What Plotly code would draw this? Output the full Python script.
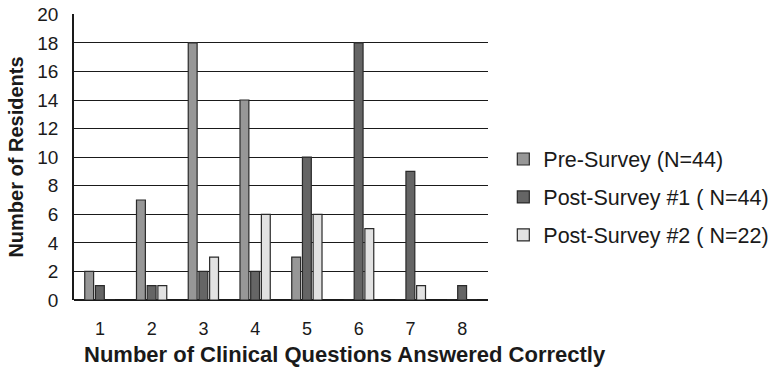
import plotly.graph_objects as go

categories = [1, 2, 3, 4, 5, 6, 7, 8]
pre_survey = [2, 7, 18, 14, 3, 0, 0, 0]
post_survey_1 = [1, 1, 2, 2, 10, 18, 9, 1]
post_survey_2 = [0, 1, 3, 6, 6, 5, 1, 0]
series_names = ["Pre-Survey (N=44)", "Post-Survey #1 ( N=44)", "Post-Survey #2 ( N=22)"]
y_ticks = list(range(0, 21, 2))
x_title = "Number of Clinical Questions Answered Correctly"
y_title = "Number of Residents"

colors = ["#979797", "#656565", "#e2e2e2"]
font = "Liberation Sans, Arial, sans-serif"
ink = "#1a1a1a"

fig = go.Figure()
for i, (name, vals) in enumerate(zip(series_names, [pre_survey, post_survey_1, post_survey_2])):
    fig.add_trace(go.Bar(
        x=categories, y=vals, name=name, legendgroup=str(i),
        textposition="none", hoverinfo="x+y+name",
        marker=dict(color=colors[i], line=dict(color="#2a2a2a", width=1.2)),
    ))

fig.update_layout(
    width=773, height=368,
    margin=dict(l=74, r=285, t=14, b=68, autoexpand=False),
    paper_bgcolor="white", plot_bgcolor="white",
    barmode="group", bargap=0.38, bargroupgap=0.17,
    font=dict(family=font, color=ink),
    showlegend=True,
    legend=dict(
        x=1.037, y=0.36, xanchor="left", yanchor="middle",
        font=dict(size=21.5, family=font, color=ink),
        traceorder="grouped", tracegroupgap=7,
        itemwidth=30, bgcolor="rgba(0,0,0,0)",
    ),
    annotations=[dict(
        text="<b>" + x_title + "</b>", xref="paper", yref="paper",
        x=0.655, y=-0.192, xanchor="center", yanchor="middle", showarrow=False,
        font=dict(size=22, family=font, color=ink),
    )],
)
fig.update_xaxes(
    range=[0.5, 8.5], tickmode="array", tickvals=categories,
    ticktext=[str(c) for c in categories],
    showgrid=False, zeroline=False, showline=False, ticks="",
    ticklabelstandoff=16, automargin=False,
    tickfont=dict(size=18, family=font, color=ink),
)
fig.update_yaxes(
    range=[0, 20.02], tickmode="array", tickvals=y_ticks,
    showgrid=True, gridcolor=ink, gridwidth=1.3,
    zeroline=True, zerolinecolor=ink, zerolinewidth=1.5,
    showline=True, linecolor=ink, linewidth=1.5,
    ticks="", ticklabelstandoff=10, automargin=False,
    ticklabeloverflow="allow",
    tickfont=dict(size=19, family=font, color=ink),
    title=dict(text="<b>" + y_title + "</b>",
               font=dict(size=20, family=font, color=ink), standoff=8),
)

fig.write_html(
    "out.html",
    config={"displayModeBar": False},
    post_script="document.body.style.margin='0';document.body.style.overflow='hidden';",
)
